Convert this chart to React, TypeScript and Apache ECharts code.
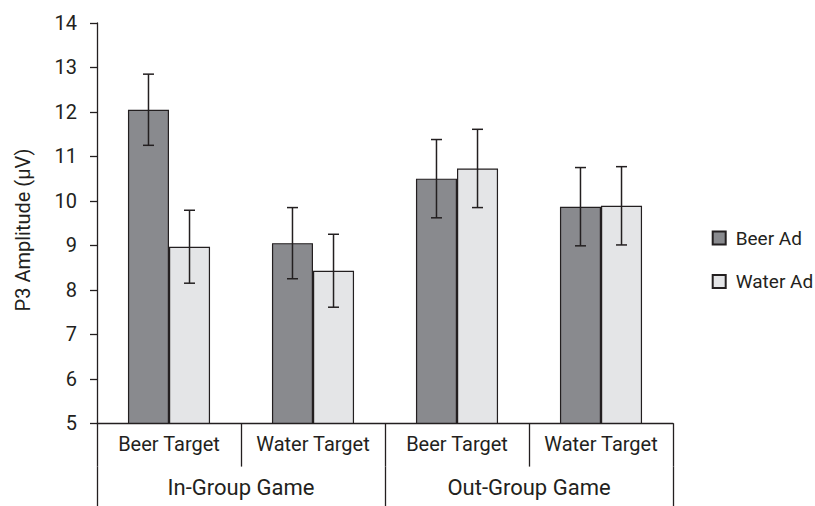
import React, { useEffect, useRef } from "react";
import * as echarts from "echarts";

const subCategories = ["Beer Target", "Water Target", "Beer Target", "Water Target"];
const groupCategories = ["In-Group Game", "Out-Group Game"];
const seriesNames = ["Beer Ad", "Water Ad"];
const beerAdMeans = [12.05, 9.05, 10.5, 9.87];
const waterAdMeans = [8.97, 8.43, 10.73, 9.89];
const beerAdErrors = [0.8, 0.8, 0.88, 0.88];
const waterAdErrors = [0.82, 0.82, 0.88, 0.88];
const yMin = 5;
const yMax = 14;
const yInterval = 1;
const yTitle = "P3 Amplitude (µV)";

const FONT = "Roboto";
const INK = "#231f20";
const BAR_FRAC = 0.285;

function errorSeries(means: number[], errs: number[], side: number) {
  return {
    type: "custom",
    xAxisIndex: 0,
    yAxisIndex: 0,
    z: 5,
    silent: true,
    data: means.map((m, i) => [i, m - errs[i], m + errs[i]]),
    encode: { x: 0, y: [1, 2] },
    renderItem: (params: any, api: any) => {
      const idx = api.value(0);
      const lo = api.coord([idx, api.value(1)]);
      const hi = api.coord([idx, api.value(2)]);
      const band = api.size([1, 0])[0];
      const x = lo[0] + side * band * BAR_FRAC / 2;
      const cap = 5.5;
      const style = { stroke: INK, lineWidth: 1.5 };
      return {
        type: "group",
        children: [
          { type: "line", shape: { x1: x, y1: lo[1], x2: x, y2: hi[1] }, style },
          { type: "line", shape: { x1: x - cap, y1: lo[1], x2: x + cap, y2: lo[1] }, style },
          { type: "line", shape: { x1: x - cap, y1: hi[1], x2: x + cap, y2: hi[1] }, style },
        ],
      };
    },
  };
}

export default function App() {
  const ref = useRef<HTMLDivElement>(null);
  useEffect(() => {
    if (!ref.current) return;
    const chart = echarts.init(ref.current, null, { renderer: "svg" });
    chart.setOption({
      animation: false,
      backgroundColor: "#ffffff",
      textStyle: { fontFamily: FONT, color: INK },
      grid: { left: 97, right: 142, top: 23, bottom: 82.7, containLabel: false },
      legend: {
        data: seriesNames,
        orient: "vertical",
        left: 706.7,
        top: 223,
        itemWidth: 13,
        itemHeight: 13,
        itemGap: 23.5,
        icon: "rect",
        textStyle: { fontFamily: FONT, fontSize: 19, color: INK, padding: [0, 0, 0, 5], lineHeight: 20 },
      },
      xAxis: [
        {
          type: "category",
          data: subCategories,
          position: "bottom",
          boundaryGap: true,
          axisLine: { show: true, lineStyle: { color: INK, width: 1.3 } },
          axisTick: { show: true, interval: 0, length: 43.3, alignWithLabel: false, lineStyle: { color: INK, width: 1.3 } },
          axisLabel: { interval: 0, margin: 11, fontFamily: FONT, fontSize: 20, color: INK },
          splitLine: { show: false },
        },
        {
          type: "category",
          data: groupCategories,
          position: "bottom",
          offset: 43.3,
          boundaryGap: true,
          axisLine: { show: false },
          axisTick: { show: true, interval: 0, length: 45, alignWithLabel: false, lineStyle: { color: INK, width: 1.3 } },
          axisLabel: { interval: 0, margin: 10, fontFamily: FONT, fontSize: 22, color: INK },
          splitLine: { show: false },
        },
      ],
      yAxis: {
        type: "value",
        min: yMin,
        max: yMax,
        interval: yInterval,
        axisLine: { show: true, lineStyle: { color: INK, width: 1.3 } },
        axisTick: { show: true, length: 7, lineStyle: { color: INK, width: 1.3 } },
        axisLabel: { margin: 20, fontFamily: FONT, fontSize: 20, color: INK },
        splitLine: { show: false },
      },
      graphic: [
        {
          type: "text",
          x: 23,
          y: 230,
          rotation: Math.PI / 2,
          style: {
            text: yTitle,
            fontFamily: FONT,
            fontSize: 20,
            fill: INK,
            align: "center",
            verticalAlign: "middle",
          },
        },
      ],
      series: [
        {
          name: seriesNames[0],
          type: "bar",
          xAxisIndex: 0,
          data: beerAdMeans,
          barWidth: "28.5%",
          barGap: "0%",
          itemStyle: { color: "#898a8e", borderColor: INK, borderWidth: 1.2 },
        },
        {
          name: seriesNames[1],
          type: "bar",
          xAxisIndex: 0,
          data: waterAdMeans,
          barWidth: "28.5%",
          barGap: "0%",
          itemStyle: { color: "#e4e5e7", borderColor: INK, borderWidth: 1.2 },
        },
        errorSeries(beerAdMeans, beerAdErrors, -1),
        errorSeries(waterAdMeans, waterAdErrors, 1),
      ],
    });
    return () => chart.dispose();
  }, []);
  return (
    <div
      ref={ref}
      style={{ position: "absolute", left: 0, top: 0, width: 815, height: 506 }}
    />
  );
}
